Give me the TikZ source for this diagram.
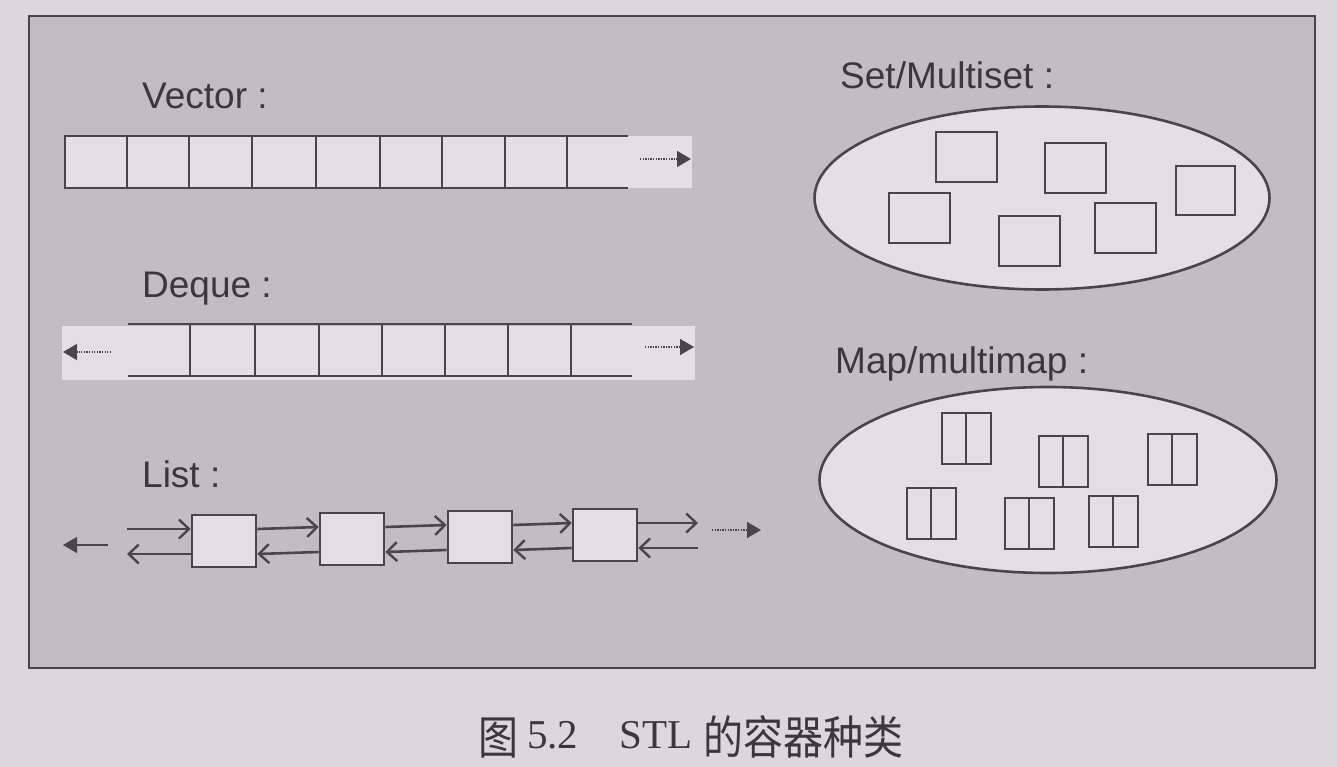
\documentclass[tikz,border=0pt]{standalone}
\usepackage{fontspec}
\setmainfont{Liberation Sans}
\newfontfamily\cjk{Noto Sans CJK SC}
\newfontfamily\serifl{Liberation Serif}
\usetikzlibrary{arrows.meta,shapes.geometric}
\definecolor{pagec}{RGB}{218,215,221}
\definecolor{panelc}{RGB}{192,189,195}
\definecolor{boxc}{RGB}{226,224,228}
\definecolor{linec}{RGB}{72,70,76}
\definecolor{textc}{RGB}{58,56,62}
\tikzset{
  lbl/.style={anchor=base west, inner sep=0pt, text=textc, font=\fontsize{37}{42}\selectfont},
  captext/.style={anchor=base west, inner sep=0pt, text=textc},
  cellline/.style={draw=linec, line width=2.6pt},
  lbox/.style={draw=linec, fill=boxc, line width=2.6pt, minimum width=64pt, minimum height=52pt, inner sep=0pt},
  sbox/.style={draw=linec, fill=boxc, line width=2pt, minimum width=61pt, minimum height=50pt, inner sep=0pt},
  mbox/.style={draw=linec, fill=boxc, line width=2pt, minimum width=49pt, minimum height=51pt, inner sep=0pt},
  oval/.style={ellipse, draw=linec, fill=boxc, line width=2.6pt, inner sep=0pt},
  barb/.style={draw=linec, line width=2.6pt, -{Straight Barb[length=10pt,width=19pt,line width=2.4pt]}},
  soltri/.style={draw=linec, line width=1.3pt, -{Triangle[length=14pt,width=16pt]}},
  dottri/.style={draw=linec, line width=1.5pt, dash pattern=on 1.3pt off 1.3pt, -{Triangle[length=14pt,width=16pt,sep=0pt]}},
}
\begin{document}
\begin{tikzpicture}[x=1pt,y=-1pt]
\useasboundingbox (0,0) rectangle (1337,767);
\fill[pagec] (0,0) rectangle (1337,767);
\draw[draw=linec, line width=2.4pt, fill=panelc] (29,16) rectangle (1315,668);

% ---------- Vector ----------
\node[lbl] (lvec) at (142,109) {Vector :};
\fill[boxc] (65,136) rectangle (692,188);
\draw[cellline] (628,136) -- (65,136) -- (65,188) -- (628,188);
\foreach \x in {127,189,252,316,380,442,505,567}
  \draw[cellline] (\x,136) -- (\x,188);
\coordinate (v1) at (640,159);
\coordinate (v2) at (691,159);
\draw[dottri] (v1) -- (v2);

% ---------- Deque ----------
\node[lbl] (ldeq) at (142,297) {Deque :};
\fill[boxc] (62,326) rectangle (695,380);
\draw[cellline] (128,324) -- (632,324);
\draw[cellline] (128,376) -- (632,376);
\foreach \x in {190,255,319,382,445,508,571}
  \draw[cellline] (\x,324) -- (\x,376);
\coordinate (d1) at (111,352);
\coordinate (d2) at (63,352);
\draw[dottri] (d1) -- (d2);
\coordinate (d3) at (645,347);
\coordinate (d4) at (694,347);
\draw[dottri] (d3) -- (d4);

% ---------- List ----------
\node[lbl] (llst) at (142,487) {List :};
\node[lbox] (b1) at (224,541) {};
\node[lbox] (b2) at (352,539) {};
\node[lbox] (b3) at (480,537) {};
\node[lbox] (b4) at (605,535) {};
\coordinate (lf0) at (127,529);
\coordinate (lb0) at (127,554);
\coordinate (lf5) at (698,523);
\coordinate (lb5) at (698,548);
\draw[barb] (lf0) -- ([yshift=12pt]b1.west);
\draw[barb] ([yshift=-13pt]b1.west) -- (lb0);
\draw[barb] ([yshift=12pt]b1.east) -- ([yshift=12pt]b2.west);
\draw[barb] ([yshift=-13pt]b2.west) -- ([yshift=-13pt]b1.east);
\draw[barb] ([yshift=12pt]b2.east) -- ([yshift=12pt]b3.west);
\draw[barb] ([yshift=-13pt]b3.west) -- ([yshift=-13pt]b2.east);
\draw[barb] ([yshift=12pt]b3.east) -- ([yshift=12pt]b4.west);
\draw[barb] ([yshift=-13pt]b4.west) -- ([yshift=-13pt]b3.east);
\draw[barb] ([yshift=12pt]b4.east) -- (lf5);
\draw[barb] (lb5) -- ([yshift=-13pt]b4.east);
\coordinate (l1) at (108,545);
\coordinate (l2) at (63,545);
\draw[soltri] (l1) -- (l2);
\coordinate (l3) at (712,530);
\coordinate (l4) at (761,530);
\draw[dottri] (l3) -- (l4);

% ---------- Set/Multiset ----------
\node[lbl] (lset) at (840,89) {Set/Multiset :};
\node[oval, minimum width=455pt, minimum height=183pt] (sov) at (1042,198) {};
\node[sbox] (s1) at (966,157) {};
\node[sbox] (s2) at (1075,168) {};
\node[sbox] (s3) at (919,218) {};
\node[sbox] (s4) at (1029,241) {};
\node[sbox] (s5) at (1125,228) {};
\node[sbox, minimum width=59pt, minimum height=49pt] (s6) at (1205,191) {};

% ---------- Map/multimap ----------
\node[lbl] (lmap) at (835,373) {Map/multimap :};
\node[oval, minimum width=457pt, minimum height=186pt] (mov) at (1048,480) {};
\foreach \n/\x/\y in {m1/966/438, m2/1063/461, m3/1172/459, m4/931/513, m5/1029/523, m6/1113/521}{
  \node[mbox] (\n) at (\x,\y) {};
  \draw[draw=linec, line width=2pt] (\n.north) -- (\n.south);
}

% ---------- caption ----------
\node[captext, xscale=0.87, font=\fontsize{46}{48}\selectfont\cjk] (c1) at (478,754) {图};
\node[captext, font=\fontsize{41}{44}\selectfont\serifl] (c2) at (527,748) {5.2};
\node[captext, font=\fontsize{41}{44}\selectfont\serifl] (c3) at (619,748) {STL};
\node[captext, xscale=0.87, font=\fontsize{46}{48}\selectfont\cjk] (c4) at (703,754) {的容器种类};
\end{tikzpicture}
\end{document}
